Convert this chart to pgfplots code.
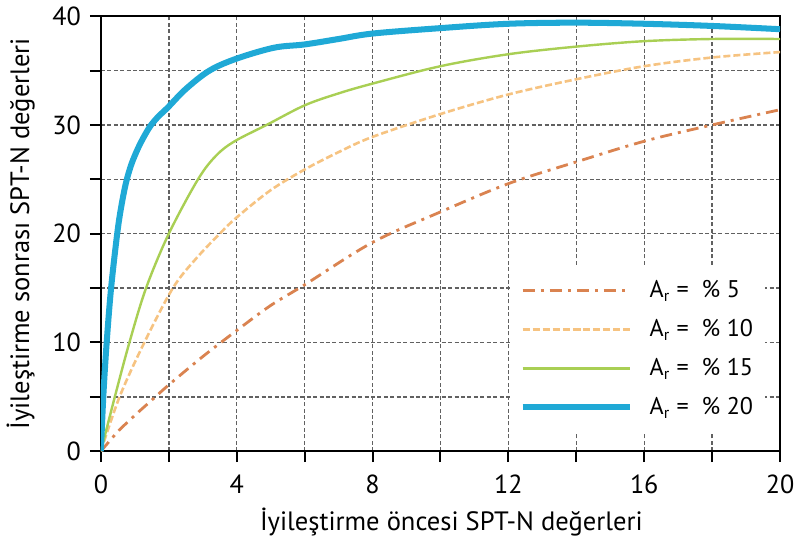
\documentclass[border=0pt]{standalone}
\usepackage{pgfplots}
\pgfplotsset{compat=1.18}
\usepackage{fontspec}
\setmainfont{PT Sans}
\definecolor{cBlue}{HTML}{1FA9D6}
\definecolor{cGreen}{HTML}{A9CF54}
\definecolor{cOrange}{HTML}{F6C381}
\definecolor{cRed}{HTML}{DA8350}
\begin{document}
\begin{tikzpicture}
\begin{axis}[
  scale only axis,
  width=338pt, height=216.5pt,
  xmin=0, xmax=20, ymin=0, ymax=40,
  xtick={0,4,...,20}, minor xtick={2,6,...,18},
  ytick={0,10,...,40}, minor ytick={5,15,25,35},
  xtick pos=bottom, ytick pos=left,
  tick align=outside,
  major tick length=5.5pt, minor tick length=5.5pt,
  tick style={black, line width=1pt},
  grid=both,
  major grid style={black!62, dash pattern=on 2pt off 1.2pt, line width=0.7pt},
  minor grid style={black!62, dash pattern=on 2pt off 1.2pt, line width=0.7pt},
  axis line style={black, line width=1.3pt},
  /pgf/number format/assume math mode=true,
  tick label style={font=\fontsize{13}{15}\selectfont},
  xticklabel style={yshift=-3pt},
  yticklabel style={xshift=-1pt},
  label style={font=\fontsize{13.2}{15}\selectfont},
  xlabel={İyileştirme öncesi SPT-N değerleri},
  ylabel={İyileştirme sonrası SPT-N değerleri},
  x label style={at={(axis description cs:0.516,-0.162)}, anchor=center},
  y label style={at={(axis description cs:-0.118,0.5)}, anchor=center},
  legend style={draw=none, fill=white,
    at={(axis description cs:0.604,0.43)}, anchor=north west,
    inner xsep=4pt, inner ysep=6pt,
    font=\fontsize{12}{14}\selectfont, row sep=5.3pt,
    legend cell align=left},
  legend image code/.code={\draw[#1] plot coordinates {(0cm,0cm) (0.94cm,0cm) (1.88cm,0cm)}; \path (2.1cm,0cm);},
]
\addplot[cRed, line width=1.4pt, dash pattern=on 6pt off 3pt on 1.5pt off 3pt, smooth, tension=0.55]
  coordinates {(0,0) (0.5,1.8) (1,3.3) (1.5,4.7) (2,6.1) (3,8.7) (4,11.1) (5,13.4) (6,15.3) (8,19.2) (10,22) (12,24.6) (14,26.6) (16,28.5) (18,30) (20,31.4)};
\addlegendentry{A\textsubscript{r} = \ \% 5}
\addplot[cOrange, line width=1.3pt, dash pattern=on 3.5pt off 1.5pt, smooth, tension=0.55]
  coordinates {(0,0) (0.55,5) (1.28,10) (2.12,15) (2.8,17.7) (3.5,20) (4,21.5) (5,24.0) (6,25.9) (7,27.5) (8,28.9) (10,31) (12,32.8) (14,34.2) (16,35.4) (18,36.2) (20,36.7)};
\addlegendentry{A\textsubscript{r} = \ \% 10}
\addplot[cGreen, line width=1.2pt, smooth, tension=0.55]
  coordinates {(0,0) (0.41,5) (0.84,10) (1.33,15) (2,20) (2.86,25) (3.4,27.2) (3.94,28.5) (4.88,30) (6,31.8) (7,32.9) (8,33.8) (10,35.4) (12,36.5) (14,37.2) (16,37.7) (18,37.9) (20,37.9)};
\addlegendentry{A\textsubscript{r} = \ \% 15}
\addplot[cBlue, line width=3pt, smooth, tension=0.55]
  coordinates {(0,0) (0.07,5) (0.17,10) (0.3,15) (0.48,20) (0.6,22.5) (0.74,24.7) (0.9,26.4) (1.1,27.9) (1.3,29.1) (1.48,30) (1.7,30.8) (1.97,31.6) (2.5,33.3) (3.2,35) (4,36.1) (5.1,37.1) (6,37.4) (7,37.9) (8,38.4) (10,38.9) (12,39.3) (14,39.4) (16,39.3) (18,39.1) (20,38.8)};
\addlegendentry{A\textsubscript{r} = \ \% 20}
\end{axis}
\end{tikzpicture}
\end{document}
